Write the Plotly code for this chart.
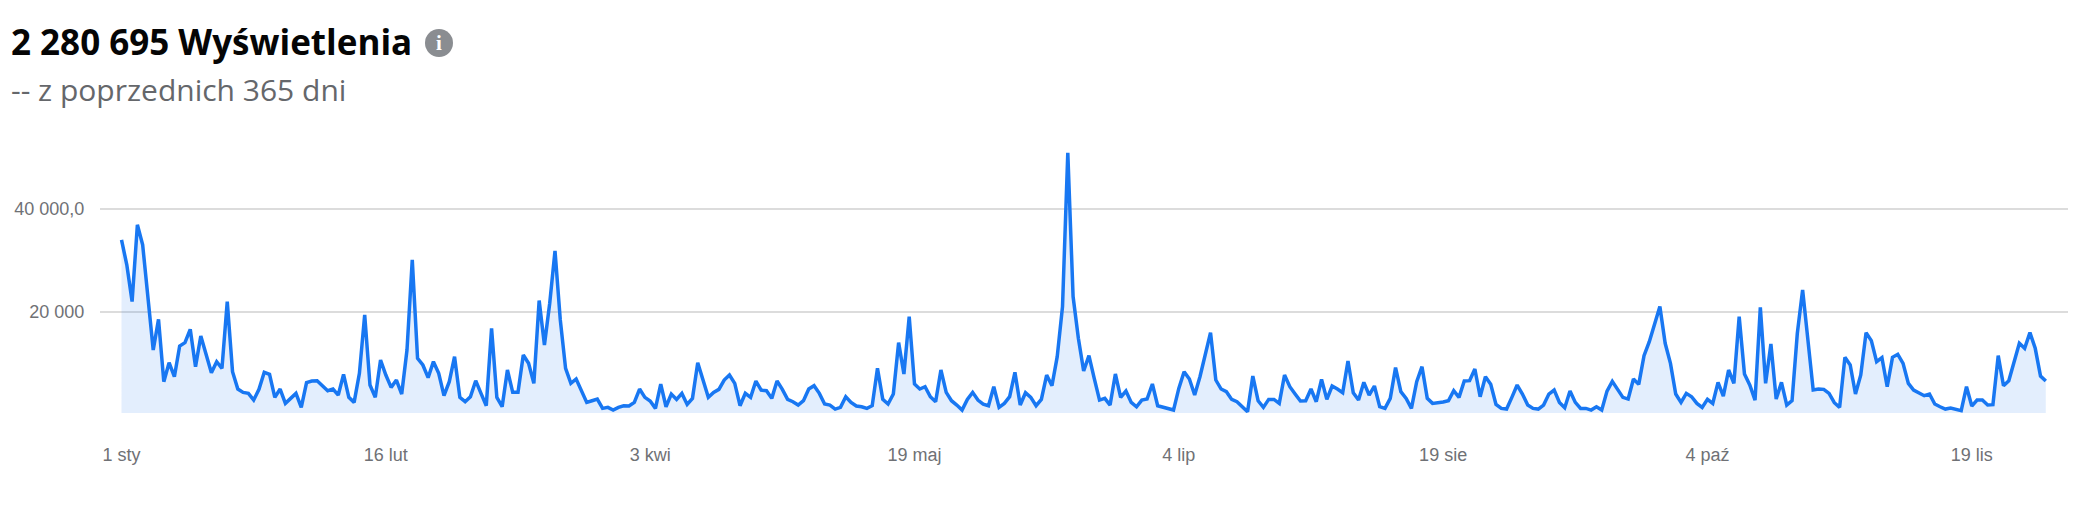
import plotly.graph_objects as go

W, H = 2100, 516

title_text = "2 280 695 Wyświetlenia"
subtitle_text = "-- z poprzednich 365 dni"

views_jan_feb = [
    34000, 29120, 21970, 36920, 33020, 22945, 12545, 18525, 6370, 10075,
    7345, 13325, 13975, 16575, 9295, 15275, 11570, 8125, 10270, 8970,
    21970, 8320, 4940, 4290, 4095, 2795, 4875, 8190, 7800, 3315,
    4940, 2145, 3120, 4095, 1365, 6175, 6500, 6565, 5590, 4615,
    4940, 3770, 7800, 3315, 2340, 7995, 19370, 5720, 3315, 10595,
    7670, 5265, 6695, 3965, 12545, 30095, 10920, 9620, 7150, 10270,
    7995, 3640, 6370, 11245, 3315, 2470, 3445, 6565, 4095, 1690,
    16770, 3315, 1495, 8645, 4290, 4290, 11570, 9945, 6045, 22165,
]
views_mar_apr = [
    13520, 21645, 31850, 18395, 8970, 6045, 6890, 4550, 2340, 2665,
    2990, 1170, 1365, 845, 1365, 1690, 1625, 2340, 4940, 3315,
    2600, 1170, 5915, 1495, 3965, 2925, 4095, 1950, 3120, 10075,
    6695, 3315, 4290, 4875, 6695, 7670, 6045, 1690, 4095, 3315,
    6500, 4745, 4615, 3120, 6500, 4875, 2925, 2470, 1820, 2665,
    4940, 5590, 4095, 2015, 1820, 1040, 1365, 3445, 2340, 1625,
    1495, 1170, 1690, 8970, 2925, 2015, 3965, 13975, 7865, 19045,
    5915, 4940, 5395, 3445, 2470, 8645, 4290, 2665, 1820, 845,
    2925, 4290,
]
views_jun_jul = [
    2795, 2015, 1690, 5395, 1365, 2145, 3445, 8190, 1820, 4225,
    3315, 1690, 2925, 7670, 5590, 11245, 20995, 50960, 22945, 14820,
    8450, 11440, 7020, 2795, 3120, 1820, 7865, 3315, 4550, 2340,
    1495, 2795, 2990, 5915, 1690, 1365, 1105, 845, 5070, 8320,
    6890, 3770, 7345, 11895, 15925, 6695, 4940, 4420, 2925, 2470,
    1495, 520, 7475, 2665, 1365, 2925, 2925, 2145, 7670, 5395,
    3965, 2600, 2665, 4940, 2470, 6825, 2925, 5525, 4940, 4225,
    10400, 4225, 2795, 6240, 3770, 5525, 1495, 1170, 3120, 9100,
    4420,
]
views_aug_sep = [
    3120, 1170, 6370, 9295, 3120, 2145, 2210, 2405, 2665, 4615,
    3315, 6500, 6565, 8840, 3445, 7345, 5850, 1950, 1170, 1040,
    3315, 5720, 3965, 1820, 1170, 1040, 1820, 3965, 4745, 2340,
    1300, 4550, 2340, 1170, 1170, 845, 1495, 845, 4550, 6435,
    4875,
]
views_oct_dec = [
    3315, 2990, 6890, 5850, 11440, 14170, 17420, 20995, 13845, 9945,
    3965, 2340, 4095, 3445, 2145, 1365, 2925, 2145, 6240, 3575,
    8645, 6045, 19045, 7865, 5720, 2795, 20865, 6045, 13715, 2990,
    6240, 1820, 2665, 15795, 24245, 14495, 4745, 4940, 4875, 4095,
    2275, 1365, 11115, 9620, 3965, 7670, 15925, 14365, 10270, 11050,
    5395, 11115, 11700, 9945, 6045, 4745, 4095, 3640, 3965, 2015,
    1495, 1040, 1235, 975, 715, 5395, 1625, 2795, 2795, 1820,
    1885, 11440, 5590, 6565, 10270, 13845, 12870, 15925, 12870, 7475,
    6500,
]
views = views_jan_feb + views_mar_apr + views_jun_jul + views_aug_sep + views_oct_dec
days = list(range(len(views)))

x_tick_days = [0, 50, 100, 150, 200, 250, 300, 350]
x_tick_labels = ["1 sty", "16 lut", "3 kwi", "19 maj", "4 lip", "19 sie", "4 paź", "19 lis"]
y_tick_values = [20000, 40000]
y_tick_labels = ["20 000", "40 000,0"]

BLUE = "#1877F2"
GREY = "#65676B"
AXIS_TEXT = "#6f7175"

fig = go.Figure(
    go.Scatter(
        x=days,
        y=views,
        mode="lines",
        line=dict(color=BLUE, width=3.5, shape="linear"),
        fill="tozeroy",
        fillcolor="rgba(24,119,242,0.12)",
        hoverinfo="skip",
    )
)

fig.update_layout(
    width=W,
    height=H,
    margin=dict(l=0, r=0, t=0, b=0),
    paper_bgcolor="white",
    plot_bgcolor="white",
    showlegend=False,
    xaxis=dict(
        domain=[100 / W, 2068 / W],
        range=[-4.07, 368.2],
        tickmode="array",
        tickvals=x_tick_days,
        ticktext=x_tick_labels,
        showgrid=False,
        zeroline=False,
        showline=False,
        ticks="outside",
        ticklen=25,
        tickcolor="rgba(0,0,0,0)",
        tickfont=dict(family="Liberation Sans, Arial, sans-serif", size=18, color=AXIS_TEXT),
    ),
    yaxis=dict(
        domain=[(H - 413) / H, (H - 150) / H],
        range=[273, 51490],
        tickmode="array",
        tickvals=y_tick_values,
        ticktext=y_tick_labels,
        showgrid=True,
        gridcolor="#dcdcdc",
        gridwidth=2,
        zeroline=False,
        showline=False,
        ticks="outside",
        ticklen=11,
        tickcolor="rgba(0,0,0,0)",
        tickfont=dict(family="Liberation Sans, Arial, sans-serif", size=18, color=AXIS_TEXT),
    ),
    annotations=[
        dict(
            text="<b>" + title_text + "</b>",
            xref="paper", yref="paper", x=9 / W, y=1 - 41 / H,
            xanchor="left", yanchor="middle", showarrow=False,
            font=dict(family="Open Sans, Arial, sans-serif", size=35, color="#050505"),
        ),
        dict(
            text=subtitle_text,
            xref="paper", yref="paper", x=9 / W, y=1 - 90 / H,
            xanchor="left", yanchor="middle", showarrow=False,
            font=dict(family="Open Sans, Arial, sans-serif", size=30, color=GREY),
        ),
        dict(
            text="<b>i</b>",
            xref="paper", yref="paper", x=439 / W, y=1 - 43 / H,
            xanchor="center", yanchor="middle", showarrow=False,
            font=dict(family="Liberation Serif, serif", size=21, color="white"),
        ),
    ],
    shapes=[
        dict(
            type="circle", xref="paper", yref="paper", layer="below",
            x0=425 / W, x1=453 / W, y0=1 - 57 / H, y1=1 - 29 / H,
            fillcolor="#8a8d91", line=dict(width=0),
        )
    ],
)

fig.write_html(
    "out.html",
    config={"displayModeBar": False},
    post_script="document.body.style.margin='0';document.body.style.overflow='hidden';",
)
